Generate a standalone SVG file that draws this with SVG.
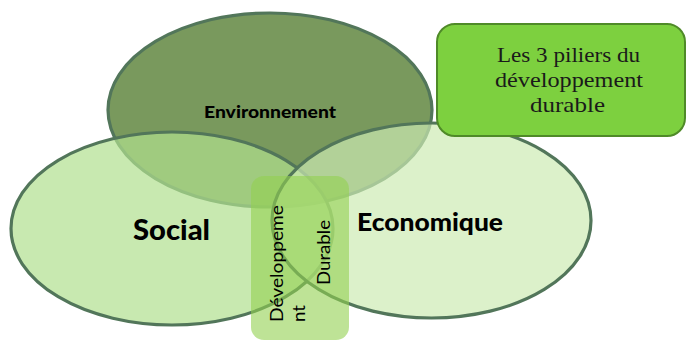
<svg xmlns="http://www.w3.org/2000/svg" width="687" height="341" viewBox="0 0 687 341">
  <style>
    .ring { stroke: #52765a; stroke-width: 3.2; }
    .pillar { font-family: Lato, "DejaVu Sans", sans-serif; font-weight: 900; fill: #000; text-anchor: middle; }
    .vert { font-family: Lato, "DejaVu Sans", sans-serif; font-size: 17px; fill: #000; }
    .title { font-family: "Liberation Serif", "DejaVu Serif", serif; font-size: 21px; fill: #1a1a1a; text-anchor: middle; }
  </style>
  <rect width="687" height="341" fill="#ffffff"/>

  <!-- Environnement circle (opaque, bottom layer) -->
  <g id="environnement">
    <ellipse class="ring" cx="270" cy="110" rx="162" ry="97" fill="#79995d"/>
  </g>

  <!-- Social circle, translucent over Environnement -->
  <g id="social">
    <ellipse class="ring" cx="172" cy="228.5" rx="161" ry="96.5" fill="#b0e08e" fill-opacity="0.7"/>
  </g>

  <!-- Economique circle, translucent -->
  <g id="economique">
    <ellipse class="ring" cx="431.5" cy="220.5" rx="159.5" ry="97.5" fill="#cdebb2" fill-opacity="0.69"/>
  </g>

  <!-- Pillar labels -->
  <text class="pillar" x="270" y="118" font-size="17.5" textLength="132" lengthAdjust="spacingAndGlyphs">Environnement</text>
  <text class="pillar" x="171.5" y="240" font-size="28" textLength="77" lengthAdjust="spacingAndGlyphs">Social</text>
  <text class="pillar" x="430" y="231" font-size="24.5" textLength="146" lengthAdjust="spacingAndGlyphs">Economique</text>

  <!-- Central overlap: sustainable development -->
  <g id="developpement-durable">
    <rect x="251" y="176" width="98" height="164" rx="13" ry="13" fill="#92d050" fill-opacity="0.6"/>
    <text class="vert" transform="translate(283,322) rotate(-90)" textLength="117" lengthAdjust="spacingAndGlyphs">Développeme</text>
    <text class="vert" transform="translate(305,322) rotate(-90)" textLength="17" lengthAdjust="spacingAndGlyphs">nt</text>
    <text class="vert" transform="translate(330,285) rotate(-90)" textLength="65" lengthAdjust="spacingAndGlyphs">Durable</text>
  </g>

  <!-- Title box -->
  <g id="titre">
    <rect x="437" y="24" width="248" height="112" rx="18" ry="18" fill="#7dd03f" stroke="#4f8a28" stroke-width="2"/>
    <text class="title" x="568.5" y="62" textLength="143" lengthAdjust="spacingAndGlyphs">Les 3 piliers du</text>
    <text class="title" x="569" y="87" textLength="148" lengthAdjust="spacingAndGlyphs">développement</text>
    <text class="title" x="567.5" y="112" textLength="75" lengthAdjust="spacingAndGlyphs">durable</text>
  </g>
</svg>
